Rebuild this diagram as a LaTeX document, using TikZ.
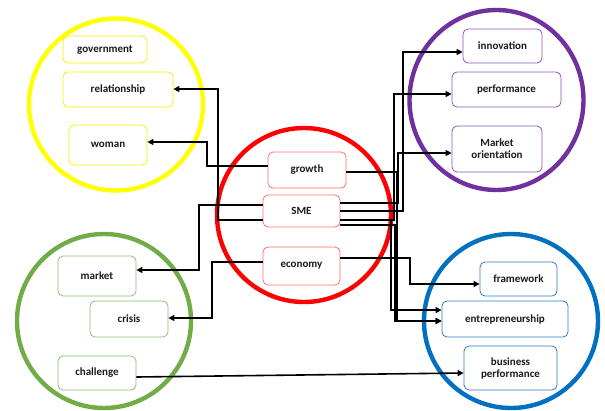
\documentclass[tikz,border=0pt]{standalone}
\usepackage{fontspec}
\setmainfont{Carlito}
\usetikzlibrary{arrows.meta}
\definecolor{cyel}{HTML}{FFFF00}
\definecolor{cpur}{HTML}{7030A0}
\definecolor{cgrn}{HTML}{70AD47}
\definecolor{cblu}{HTML}{0070C0}
\definecolor{cred}{HTML}{FF0000}
\definecolor{bred}{HTML}{FF6B6B}
\definecolor{bgrn}{HTML}{8CC06A}
\definecolor{bblu}{HTML}{2E7CC4}
\definecolor{bpur}{HTML}{8A55B8}
\definecolor{byel}{HTML}{F5F000}
\definecolor{txt}{HTML}{1A1A1A}
\tikzset{
  ring/.style={line width=4.4pt},
  box/.style={draw, rounded corners=5pt, fill=white, line width=0.8pt,
    font=\bfseries\fontsize{11}{12}\selectfont, text=txt, align=center, inner sep=1pt},
  conn/.style={line width=1.6pt, black, -{Triangle[length=6pt,width=6pt]}},
}
\begin{document}
\begin{tikzpicture}[x=1pt,y=-1pt]
\useasboundingbox (0,0) rectangle (605,410);
% circles
\draw[ring, cyel] (116,104.5) ellipse [x radius=87, y radius=86];
\draw[ring, cpur] (496.5,100) ellipse [x radius=87, y radius=90];
\draw[ring, cred] (304,215) circle [radius=87];
\draw[ring, cgrn] (104,321) circle [radius=87];
\draw[ring, cblu] (511,321) circle [radius=87];
% nodes
\node[box, draw=byel, minimum width=84, minimum height=27] (gov) at (105,49.5) {government};
\node[box, draw=byel, minimum width=110, minimum height=35] (rel) at (118,89.5) {relationship};
\node[box, draw=byel, minimum width=78, minimum height=40] (wom) at (108,145) {woman};
\node[box, draw=bpur, minimum width=79, minimum height=34] (inn) at (502.5,46) {innovation};
\node[box, draw=bpur, minimum width=109, minimum height=35] (perf) at (506.5,89.5) {performance};
\node[box, draw=bpur, minimum width=90, minimum height=46] (mo) at (497,149) {Market\\orientation};
\node[box, draw=bred, minimum width=78, minimum height=36] (gro) at (307,170) {growth};
\node[box, draw=bred, minimum width=77, minimum height=32] (sme) at (301.5,211) {SME};
\node[box, draw=bred, minimum width=77, minimum height=38] (eco) at (301.5,266) {economy};
\node[box, draw=bgrn, minimum width=78, minimum height=40] (mkt) at (97,276) {market};
\node[box, draw=bgrn, minimum width=78, minimum height=36] (cri) at (129,319) {crisis};
\node[box, draw=bgrn, minimum width=78, minimum height=34] (cha) at (97,373) {challenge};
\node[box, draw=bblu, minimum width=77, minimum height=34] (fra) at (518.5,279) {framework};
\node[box, draw=bblu, minimum width=126, minimum height=36] (ent) at (505,319) {entrepreneurship};
\node[box, draw=bblu, minimum width=93, minimum height=44] (bp) at (510.5,368) {business\\performance};
% left connectors
\draw[conn] (gro.west |- 0,166) -| (207,142) -- (wom.east |- 0,142);
\draw[conn] (sme.west |- 0,220) -| (218,89) -- (rel.east |- 0,89);
\draw[conn] (sme.west |- 0,205) -| (199,270) -- (mkt.east |- 0,270);
\draw[conn] (eco.west |- 0,262) -| (212,318) -- (cri.east |- 0,318);
% right connectors
\draw[conn] (sme.east |- 0,211) -| (403,52) -- (inn.west |- 0,52);
\draw[conn] (sme.east |- 0,220) -| (394,94) -- (perf.west |- 0,94);
\draw[conn] (sme.east |- 0,203) -| (398,153) -- (mo.west |- 0,153);
\draw[conn] (gro.east |- 0,172) -| (397,321) -- (ent.west |- 0,321);
\draw[conn] (sme.east |- 0,225) -| (395,321) -- (ent.west |- 0,321);
\draw[conn] (sme.east |- 0,220) -| (391,310) -- (ent.west |- 0,310);
\draw[conn] (eco.east |- 0,258) -| (410,284) -- (fra.west |- 0,284);
\draw[conn] (cha.east |- 0,377) -- (bp.west |- 0,373);
\end{tikzpicture}
\end{document}
